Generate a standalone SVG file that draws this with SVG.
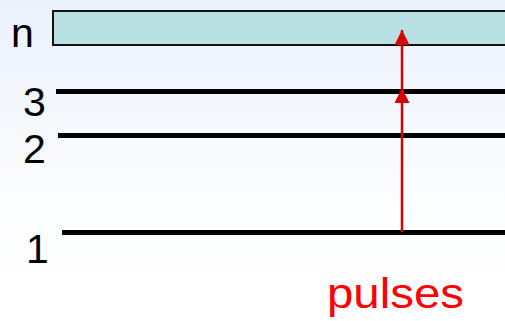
<svg xmlns="http://www.w3.org/2000/svg" width="505" height="321" viewBox="0 0 505 321">
  <defs>
    <linearGradient id="bg" x1="0" y1="0" x2="0" y2="1">
      <stop offset="0" stop-color="#ecf2fc"/>
      <stop offset="0.7" stop-color="#fdfeff"/>
      <stop offset="1" stop-color="#ffffff"/>
    </linearGradient>
    <marker id="head" viewBox="0 0 15 15" refX="15" refY="7.5" markerWidth="15" markerHeight="15" markerUnits="userSpaceOnUse" orient="auto">
      <path d="M0,0 L15,7.5 L0,15 z" fill="#d40000"/>
    </marker>
  </defs>
  <style>
    .lvl { stroke: #000; stroke-width: 5; fill: none; }
    .lbl { font-family: "Liberation Sans", Arial, sans-serif; font-size: 41px; fill: #000; }
    .pul { font-family: "Liberation Sans", Arial, sans-serif; font-size: 43px; fill: #ff0000; }
    .arr { stroke: #d40000; stroke-width: 2.5; fill: none; }
  </style>
  <rect x="0" y="0" width="505" height="321" fill="url(#bg)"/>
  <g id="level-n">
    <rect x="53" y="11" width="460" height="34" fill="#b9e0e2" stroke="#111" stroke-width="2"/>
    <text class="lbl" x="11" y="47">n</text>
  </g>
  <g id="level-3">
    <line class="lvl" x1="56" y1="91.5" x2="505" y2="91.5"/>
    <text class="lbl" x="23" y="116">3</text>
  </g>
  <g id="level-2">
    <line class="lvl" x1="58" y1="135.5" x2="505" y2="135.5"/>
    <text class="lbl" x="23" y="163">2</text>
  </g>
  <g id="level-1">
    <line class="lvl" x1="62" y1="232.5" x2="505" y2="232.5"/>
    <text class="lbl" x="26" y="263">1</text>
  </g>
  <g id="connectors">
    <path class="arr" d="M402,232 L402,88" marker-end="url(#head)"/>
    <path class="arr" d="M402,88 L402,30" marker-end="url(#head)"/>
  </g>
  <g id="pulses">
    <text class="pul" x="327" y="308" textLength="137" lengthAdjust="spacingAndGlyphs">pulses</text>
  </g>
</svg>
